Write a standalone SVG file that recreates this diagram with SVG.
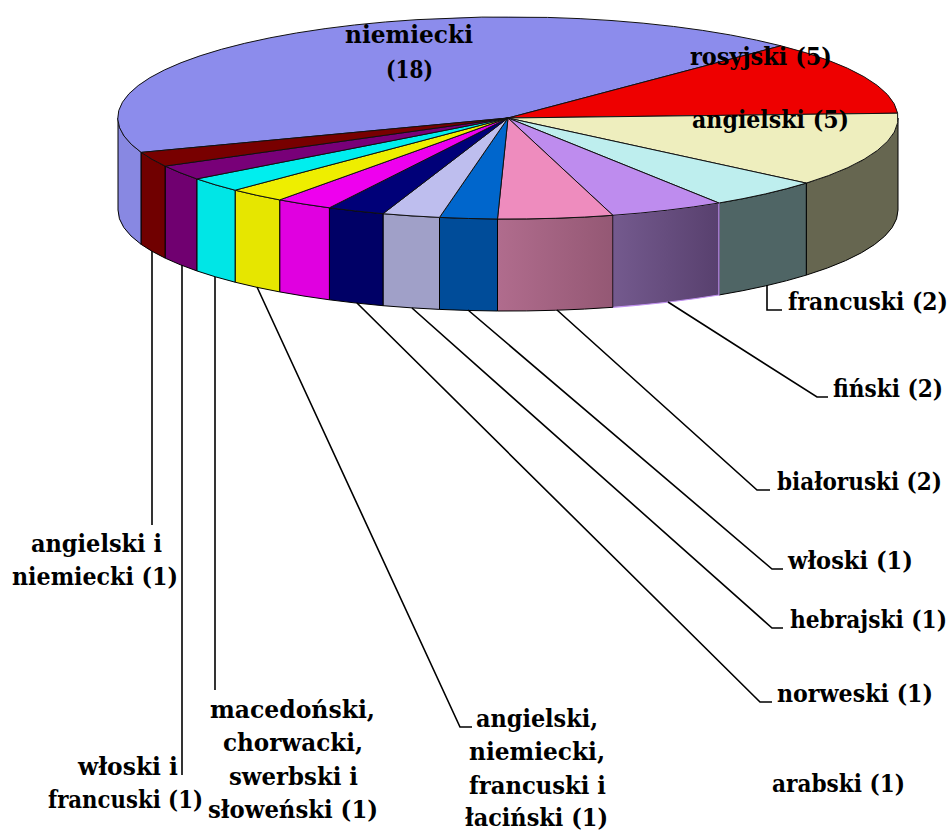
<svg xmlns="http://www.w3.org/2000/svg" width="952" height="836" viewBox="0 0 952 836">
<style>
.s{stroke:#000;stroke-width:1;stroke-linejoin:round}
.t{stroke:#111;stroke-width:1;stroke-linejoin:round}
text{font-family:'DejaVu Serif','Liberation Serif',serif;font-weight:700;font-size:25px;fill:#000}
.ld{fill:none;stroke:#000;stroke-width:1.6}
</style>
<defs>
<linearGradient id="gPink" gradientUnits="userSpaceOnUse" x1="498" y1="0" x2="613" y2="0">
<stop offset="0" stop-color="#B06C8D"/><stop offset="1" stop-color="#945874"/>
</linearGradient>
<linearGradient id="gLav" gradientUnits="userSpaceOnUse" x1="613" y1="0" x2="719" y2="0">
<stop offset="0" stop-color="#745A8E"/><stop offset="1" stop-color="#58406E"/>
</linearGradient>
</defs>
<rect width="952" height="836" fill="#fff"/>

<g id="slice-niemiecki">
<path class="s" fill="#8888E2" d="M141.2,152.4 A390,101 0 0 1 118,118 L118,210 A390,101 0 0 0 141.2,244.4 Z"/>
<path class="t" fill="#8C8CEC" d="M508,118 L141.2,152.4 A390,101 0 0 1 780.9,45.8 Z"/>
<text x="345" y="43" textLength="128" lengthAdjust="spacingAndGlyphs">niemiecki</text>
<text x="386" y="78" textLength="47" lengthAdjust="spacingAndGlyphs">(18)</text>
</g>
<g id="slice-rosyjski">
<path class="t" fill="#EE0000" d="M508,118 L780.9,45.8 A390,101 0 0 1 897.6,113.2 Z"/>
<text x="690" y="65" textLength="142" lengthAdjust="spacingAndGlyphs">rosyjski (5)</text>
</g>
<g id="slice-angielski">
<path class="s" fill="#666650" d="M898,118 A390,101 0 0 1 806.3,183.1 L806.3,275.1 A390,101 0 0 0 898,210 Z"/>
<path class="t" fill="#EEEEBE" d="M508,118 L897.6,113.2 A390,101 0 0 1 806.3,183.1 Z"/>
<text x="692" y="128" textLength="157" lengthAdjust="spacingAndGlyphs">angielski (5)</text>
</g>
<g id="slice-francuski">
<path class="s" fill="#4F6565" d="M806.3,183.1 A390,101 0 0 1 718.9,203 L718.9,295 A390,101 0 0 0 806.3,275.1 Z"/>
<path class="t" fill="#BEEEEE" d="M508,118 L806.3,183.1 A390,101 0 0 1 718.9,203 Z"/>
<text x="788" y="310" textLength="160" lengthAdjust="spacingAndGlyphs">francuski (2)</text>
</g>
<g id="slice-finski">
<path fill="url(#gLav)" stroke="#C090F0" stroke-width="1.2" d="M718.9,203 A390,101 0 0 1 612.9,215.3 L612.9,307.3 A390,101 0 0 0 718.9,295 Z"/>
<path class="t" fill="#BE8CEE" d="M508,118 L718.9,203 A390,101 0 0 1 612.9,215.3 Z"/>
<text x="833" y="397" textLength="110" lengthAdjust="spacingAndGlyphs">fiński (2)</text>
</g>
<g id="slice-bialoruski">
<path class="s" fill="url(#gPink)" d="M612.9,215.3 A390,101 0 0 1 497.5,219 L497.5,311 A390,101 0 0 0 612.9,307.3 Z"/>
<path class="t" fill="#EE8CBE" d="M508,118 L612.9,215.3 A390,101 0 0 1 497.5,219 Z"/>
<text x="777" y="490" textLength="165" lengthAdjust="spacingAndGlyphs">białoruski (2)</text>
</g>
<g id="slice-wloski">
<path class="s" fill="#004C99" d="M497.5,219 A390,101 0 0 1 439.5,217.4 L439.5,309.4 A390,101 0 0 0 497.5,311 Z"/>
<path class="t" fill="#0066CC" d="M508,118 L497.5,219 A390,101 0 0 1 439.5,217.4 Z"/>
<text x="788" y="569" textLength="125" lengthAdjust="spacingAndGlyphs">włoski (1)</text>
</g>
<g id="slice-hebrajski">
<path class="s" fill="#A0A0C8" d="M439.5,217.4 A390,101 0 0 1 383,213.7 L383,305.7 A390,101 0 0 0 439.5,309.4 Z"/>
<path class="t" fill="#BEBEEE" d="M508,118 L439.5,217.4 A390,101 0 0 1 383,213.7 Z"/>
<text x="790" y="628" textLength="157" lengthAdjust="spacingAndGlyphs">hebrajski (1)</text>
</g>
<g id="slice-norweski">
<path class="s" fill="#000066" d="M383,213.7 A390,101 0 0 1 329.4,207.8 L329.4,299.8 A390,101 0 0 0 383,305.7 Z"/>
<path class="t" fill="#000078" d="M508,118 L383,213.7 A390,101 0 0 1 329.4,207.8 Z"/>
<text x="777" y="702" textLength="156" lengthAdjust="spacingAndGlyphs">norweski (1)</text>
</g>
<g id="slice-arabski">
<path class="s" fill="#E000E0" d="M329.4,207.8 A390,101 0 0 1 279.7,199.9 L279.7,291.9 A390,101 0 0 0 329.4,299.8 Z"/>
<path class="t" fill="#EE00EE" d="M508,118 L329.4,207.8 A390,101 0 0 1 279.7,199.9 Z"/>
<text x="772" y="792" textLength="133" lengthAdjust="spacingAndGlyphs">arabski (1)</text>
</g>
<g id="slice-angielski-niemiecki-francuski-lacinski">
<path class="s" fill="#E6E600" d="M279.7,199.9 A390,101 0 0 1 235.1,190.2 L235.1,282.2 A390,101 0 0 0 279.7,291.9 Z"/>
<path class="t" fill="#EEEE00" d="M508,118 L279.7,199.9 A390,101 0 0 1 235.1,190.2 Z"/>
<text x="476" y="727" textLength="122" lengthAdjust="spacingAndGlyphs">angielski,</text>
<text x="469" y="760" textLength="136" lengthAdjust="spacingAndGlyphs">niemiecki,</text>
<text x="469" y="794" textLength="137" lengthAdjust="spacingAndGlyphs">francuski i</text>
<text x="465" y="826" textLength="143" lengthAdjust="spacingAndGlyphs">łaciński (1)</text>
</g>
<g id="slice-macedonski">
<path class="s" fill="#00E6E6" d="M235.1,190.2 A390,101 0 0 1 196.8,178.9 L196.8,270.9 A390,101 0 0 0 235.1,282.2 Z"/>
<path class="t" fill="#00EEEE" d="M508,118 L235.1,190.2 A390,101 0 0 1 196.8,178.9 Z"/>
<text x="210" y="718" textLength="165" lengthAdjust="spacingAndGlyphs">macedoński,</text>
<text x="223" y="751" textLength="140" lengthAdjust="spacingAndGlyphs">chorwacki,</text>
<text x="229" y="785" textLength="129" lengthAdjust="spacingAndGlyphs">swerbski i</text>
<text x="208" y="818" textLength="170" lengthAdjust="spacingAndGlyphs">słoweński (1)</text>
</g>
<g id="slice-wloski-francuski">
<path class="s" fill="#700070" d="M196.8,178.9 A390,101 0 0 1 165.1,166.1 L165.1,258.1 A390,101 0 0 0 196.8,270.9 Z"/>
<path class="t" fill="#780078" d="M508,118 L196.8,178.9 A390,101 0 0 1 165.1,166.1 Z"/>
<text x="78" y="775" textLength="100" lengthAdjust="spacingAndGlyphs">włoski i</text>
<text x="48" y="808" textLength="155" lengthAdjust="spacingAndGlyphs">francuski (1)</text>
</g>
<g id="slice-angielski-niemiecki">
<path class="s" fill="#700000" d="M165.1,166.1 A390,101 0 0 1 141.2,152.4 L141.2,244.4 A390,101 0 0 0 165.1,258.1 Z"/>
<path class="t" fill="#780000" d="M508,118 L165.1,166.1 A390,101 0 0 1 141.2,152.4 Z"/>
<text x="31" y="552" textLength="131" lengthAdjust="spacingAndGlyphs">angielski i</text>
<text x="12" y="585" textLength="166" lengthAdjust="spacingAndGlyphs">niemiecki (1)</text>
</g>

<g id="connectors">
<path class="ld" d="M152,251 V525"/>
<path class="ld" d="M182,265 V775"/>
<path class="ld" d="M215,277 V690"/>
<path class="ld" d="M257,287 L460,727 H472"/>
<path class="ld" d="M357,303 L760,702 H772"/>
<path class="ld" d="M412,308 L772,628 H783"/>
<path class="ld" d="M468,310 L772,569 H783"/>
<path class="ld" d="M557,310 L757,490 H770"/>
<path class="ld" d="M668,302 L817,397 H828"/>
<path class="ld" d="M767,285 V310 H782"/>
</g>
</svg>
